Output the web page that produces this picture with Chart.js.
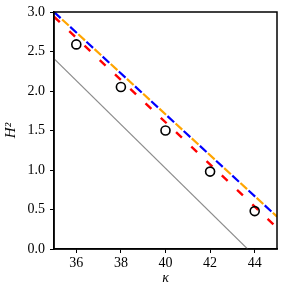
<!DOCTYPE html>
<html>
<head>
<meta charset="utf-8">
<script src="https://cdn.jsdelivr.net/npm/chart.js@4"></script>
<style>
  html, body { margin: 0; padding: 0; background: #fff; }
  #wrap { width: 287px; height: 287px; }
</style>
</head>
<body>
<div id="wrap"><canvas id="c" width="287" height="287"></canvas></div>
<script>
// measured points (open circles)
const kappa = [36, 38, 40, 42, 44];
const h2 = [2.59, 2.05, 1.50, 0.98, 0.48];

// fitted / model lines, endpoints only
const lineX = [35, 45];
const blueY = [3.00, 0.41];
const orangeY = [3.00, 0.41];
const redY = [2.94, 0.27];
const grayX = [35, 43.68];
const grayY = [2.41, 0];

const xTicks = [36, 38, 40, 42, 44];
const yTicks = [0, 0.5, 1.0, 1.5, 2.0, 2.5, 3.0];

const pts = (xs, ys) => xs.map((x, i) => ({ x: x, y: ys[i] }));
const SERIF = "'Liberation Serif', 'Times New Roman', serif";

// full box around the plot area (top/right spines)
const frame = {
  id: "frame",
  afterDraw(chart) {
    const { ctx, chartArea: a } = chart;
    ctx.save();
    ctx.strokeStyle = "#000";
    ctx.lineWidth = 1.5;
    ctx.strokeRect(a.left, a.top, a.right - a.left, a.bottom - a.top);
    ctx.restore();
  }
};

const lineDs = (data, color, dash, offset, width, order) => ({
  type: "line",
  data: data,
  borderColor: color,
  borderWidth: width,
  borderDash: dash,
  borderDashOffset: offset,
  borderCapStyle: "butt",
  pointRadius: 0,
  fill: false,
  order: order
});

new Chart(document.getElementById("c"), {
  type: "scatter",
  data: {
    datasets: [
      {
        data: pts(kappa, h2),
        pointStyle: "circle",
        pointRadius: 4.5,
        pointBorderWidth: 1.6,
        borderColor: "#000",
        backgroundColor: "rgba(0,0,0,0)",
        order: 0
      },
      lineDs(pts(lineX, orangeY), "#ffa500", [9, 13], -11, 2.2, 1),
      lineDs(pts(lineX, blueY), "#0000ff", [9, 13], 0, 2.2, 2),
      lineDs(pts(lineX, redY), "#ff0000", [8, 13], 0, 2.4, 3),
      lineDs(pts(grayX, grayY), "#8c8c8c", [], 0, 1.1, 4)
    ]
  },
  options: {
    responsive: false,
    animation: false,
    layout: { padding: { top: 10, right: 10, left: 0, bottom: 0 } },
    plugins: { legend: { display: false }, tooltip: { enabled: false } },
    scales: {
      x: {
        type: "linear",
        min: 35,
        max: 45,
        afterBuildTicks: s => { s.ticks = xTicks.map(v => ({ value: v })); },
        afterFit: s => { s.height = 38; },
        grid: { drawOnChartArea: false, drawTicks: true, tickLength: 4, color: "#000", lineWidth: 1 },
        border: { display: true, color: "#000", width: 1.5 },
        ticks: { color: "#000", font: { family: SERIF, size: 14 }, padding: 2, maxRotation: 0 },
        title: {
          display: true,
          text: "κ",
          color: "#000",
          font: { family: SERIF, size: 14, style: "italic" },
          padding: { top: -4, bottom: 0 }
        }
      },
      y: {
        type: "linear",
        min: 0,
        max: 3,
        afterBuildTicks: s => { s.ticks = yTicks.map(v => ({ value: v })); },
        afterFit: s => { s.width = 54; },
        grid: { drawOnChartArea: false, drawTicks: true, tickLength: 4, color: "#000", lineWidth: 1 },
        border: { display: true, color: "#000", width: 1.5 },
        ticks: {
          color: "#000",
          font: { family: SERIF, size: 14, lineHeight: 1 },
          padding: 5,
          callback: v => v.toFixed(1)
        },
        title: {
          display: true,
          text: "H²",
          color: "#000",
          font: { family: SERIF, size: 15, style: "italic" },
          padding: { top: 2, bottom: 0 }
        }
      }
    }
  },
  plugins: [frame]
});
</script>
</body>
</html>
